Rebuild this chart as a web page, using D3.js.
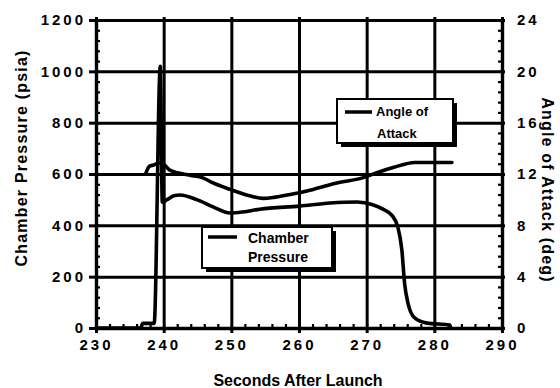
<!DOCTYPE html>
<html>
<head>
<meta charset="utf-8">
<script src="https://cdn.jsdelivr.net/npm/d3@7"></script>
<style>
  body { margin: 0; background: #fff; }
  svg { display: block; font-family: "Liberation Sans", Arial, sans-serif; }
  .tick text { font-size: 15px; font-weight: bold; letter-spacing: 3px; fill: #000; }
  .domain { stroke: #000; stroke-width: 3.4px; }
  .tick line { stroke: #000; }
  .grid .tick line { stroke-width: 3px; }
  .grid .domain { display: none; }
  .minor .domain { display: none; }
  .minor .tick line { stroke-width: 2.2px; }
  .line { fill: none; stroke: #000; stroke-width: 3.6px; stroke-linejoin: round; stroke-linecap: round; }
  .title { font-size: 16px; font-weight: bold; fill: #000; }
  .legend text { font-weight: bold; fill: #000; }
</style>
</head>
<body>
<div id="chart"></div>
<script>
// ticks
const timeTicks = [230, 240, 250, 260, 270, 280, 290];
const pressureTicks = [0, 200, 400, 600, 800, 1000, 1200];
const angleTicks = [0, 4, 8, 12, 16, 20, 24];

// chamber pressure (psia) vs seconds after launch
const pressureTime = [230, 236.6, 236.9, 238.6, 239.5, 239.8, 240.5, 241.5, 242.4, 244.9, 247.3, 249.8, 251.7, 254.2, 260.1, 264.6, 268.6, 270.9, 272.4, 273.7, 274.6, 275.2, 275.6, 276.1, 277.1, 278.9, 282.3, 282.4];
const pressureVals = [0, 0, 18, 18, 1020, 490, 500, 515, 518, 500, 472, 448, 452, 463, 475, 487, 491, 480, 463, 440, 394, 304, 175, 97, 39, 19, 12, 0];

// angle of attack (deg) vs seconds after launch
const angleTime = [237.4, 237.9, 238.5, 239.6, 240.9, 243.9, 245.8, 247.3, 249.8, 252.7, 254.7, 256.5, 258.7, 262.1, 265.6, 269.4, 271.5, 273.9, 277.1, 282.6];
const angleVals = [12.1, 12.6, 12.7, 12.9, 12.3, 11.9, 11.7, 11.3, 10.8, 10.3, 10.1, 10.2, 10.4, 10.8, 11.3, 11.7, 12.1, 12.5, 12.9, 12.9];

const W = 560, H = 388;
const mLeft = 96, mRight = 502, mTop = 20, mBottom = 328;

const svg = d3.select('#chart').append('svg')
  .attr('width', W).attr('height', H);

const x = d3.scaleLinear().domain([230, 290]).range([mLeft, mRight]);
const yP = d3.scaleLinear().domain([0, 1200]).range([mBottom, mTop]);
const yA = d3.scaleLinear().domain([0, 24]).range([mBottom, mTop]);

// grid lines
svg.append('g')
  .attr('class', 'grid')
  .attr('transform', `translate(0, ${mBottom})`)
  .call(d3.axisBottom(x).tickValues(timeTicks).tickSize(-(mBottom - mTop) - 3).tickFormat(''));

svg.append('g')
  .attr('class', 'grid')
  .attr('transform', `translate(${mLeft}, 0)`)
  .call(d3.axisLeft(yP).tickValues(pressureTicks).tickSize(-(mRight - mLeft)).tickFormat(''));

// minor ticks
svg.append('g')
  .attr('class', 'minor')
  .attr('transform', `translate(${mLeft}, 0)`)
  .call(d3.axisLeft(yP).tickValues(d3.range(0, 1201, 40)).tickSize(-4).tickFormat(''));

svg.append('g')
  .attr('class', 'minor')
  .attr('transform', `translate(${mRight}, 0)`)
  .call(d3.axisRight(yA).tickValues(d3.range(0, 24.1, 0.8)).tickSize(-4).tickFormat(''));

svg.append('g')
  .attr('class', 'minor')
  .attr('transform', `translate(0, ${mBottom})`)
  .call(d3.axisBottom(x).tickValues(d3.range(230, 291, 2)).tickSize(-4).tickFormat(''));

// axes
svg.append('g')
  .attr('transform', `translate(0, ${mBottom})`)
  .call(d3.axisBottom(x).tickValues(timeTicks).tickSize(5).tickSizeOuter(0).tickPadding(6).tickFormat(d3.format('d')))
  .selectAll('.tick line').attr('stroke-width', 3);

svg.append('g')
  .attr('transform', `translate(${mLeft}, 0)`)
  .call(d3.axisLeft(yP).tickValues(pressureTicks).tickSize(7).tickSizeOuter(0).tickPadding(3).tickFormat(d3.format('d')))
  .selectAll('.tick line').attr('stroke-width', 3);

svg.append('g')
  .attr('transform', `translate(${mRight}, 0)`)
  .call(d3.axisRight(yA).tickValues(angleTicks).tickSize(3).tickSizeOuter(0).tickPadding(12).tickFormat(d3.format('d')))
  .selectAll('.tick line').attr('stroke-width', 3);

// data lines
const pressureData = pressureTime.map((t, i) => ({ t: t, v: pressureVals[i] }));
const angleData = angleTime.map((t, i) => ({ t: t, v: angleVals[i] }));

svg.append('path')
  .datum(pressureData)
  .attr('class', 'line')
  .attr('d', d3.line().x(d => x(d.t)).y(d => yP(d.v)).curve(d3.curveMonotoneX));

svg.append('path')
  .datum(angleData)
  .attr('class', 'line')
  .attr('d', d3.line().x(d => x(d.t)).y(d => yA(d.v)).curve(d3.curveMonotoneX));

// legends
function legend(x0, y0, w, h, lineX1, lineX2, lineY, lines, fs) {
  const g = svg.append('g').attr('class', 'legend');
  g.append('rect')
    .attr('x', x0 + 4).attr('y', y0 + 4)
    .attr('width', w).attr('height', h)
    .attr('fill', '#000');
  g.append('rect')
    .attr('x', x0).attr('y', y0)
    .attr('width', w).attr('height', h)
    .attr('fill', '#fff').attr('stroke', '#000').attr('stroke-width', 2);
  g.append('line')
    .attr('x1', lineX1).attr('x2', lineX2)
    .attr('y1', lineY).attr('y2', lineY)
    .attr('stroke', '#000').attr('stroke-width', 3.5);
  lines.forEach(l => {
    g.append('text')
      .attr('x', l.x).attr('y', l.y)
      .style('font-size', fs + 'px')
      .text(l.text);
  });
}

legend(337, 99, 116, 44, 345, 372, 112,
  [{ text: 'Angle of', x: 376, y: 116 }, { text: 'Attack', x: 377, y: 138 }], 13);

legend(202, 227, 130, 41, 208, 237, 237,
  [{ text: 'Chamber', x: 248, y: 243 }, { text: 'Pressure', x: 248, y: 262 }], 14);

// titles
svg.append('text')
  .attr('class', 'title')
  .attr('x', 298).attr('y', 386)
  .attr('text-anchor', 'middle')
  .text('Seconds After Launch');

svg.append('text')
  .attr('class', 'title')
  .attr('transform', 'translate(27, 158) rotate(-90)')
  .attr('text-anchor', 'middle')
  .style('letter-spacing', '1.2px')
  .text('Chamber Pressure (psia)');

svg.append('text')
  .attr('class', 'title')
  .attr('transform', 'translate(542, 190) rotate(90)')
  .attr('text-anchor', 'middle')
  .style('letter-spacing', '1.2px')
  .text('Angle of Attack (deg)');
</script>
</body>
</html>
